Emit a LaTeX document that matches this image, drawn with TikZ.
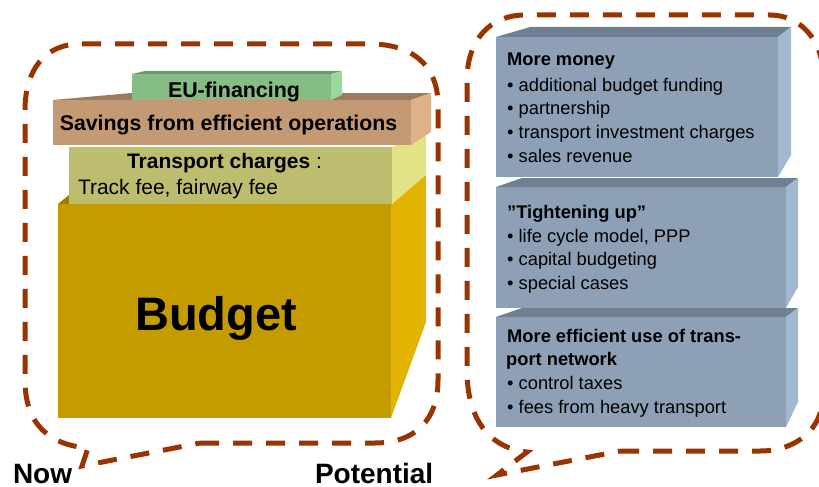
\documentclass[tikz,border=0pt]{standalone}
\usepackage{fontspec}
\setmainfont{Liberation Sans}
\definecolor{dashred}{HTML}{993300}
\definecolor{budfront}{HTML}{C49C00}
\definecolor{budside}{HTML}{E0B400}
\definecolor{budtop}{HTML}{9E7E00}
\definecolor{tcfront}{HTML}{BDBD70}
\definecolor{tcside}{HTML}{E3E385}
\definecolor{savfront}{HTML}{C49A74}
\definecolor{savside}{HTML}{DFB187}
\definecolor{savtop}{HTML}{9C7B5D}
\definecolor{eufront}{HTML}{85BD85}
\definecolor{euside}{HTML}{9BD99B}
\definecolor{eutop}{HTML}{6B9B6B}
\definecolor{bxfront}{HTML}{8DA0B5}
\definecolor{bxside}{HTML}{A2B8CF}
\definecolor{bxtop}{HTML}{6F8093}
\begin{document}
\begin{tikzpicture}[x=1pt, y=-1pt]
	\tikzset{fc/.style={inner sep=0pt, outer sep=0pt, draw=none}};
	\tikzset{txt/.style={inner sep=0pt, anchor=base west, font=\fontsize{18.3}{22}\selectfont}};
	\tikzset{hd/.style={txt, font=\fontsize{18.3}{22}\selectfont\bfseries}};
	\tikzset{callout/.style={draw=dashred, line width=5pt, dash pattern=on 19pt off 14pt}};
	\useasboundingbox (0,0) rectangle (819,487);

	\node[fc, fill=budfront, minimum width=333pt, minimum height=214pt] (budget) at (224.5,311) {};
	\fill[budtop] (budget.north west) -- (budget.north east) -- ++(35,-29) -- ++(-333,0) -- cycle;
	\fill[budside] (budget.north east) -- ++(35,-29) -- ++(0,147) -- (budget.south east) -- cycle;
	\node[fc, fill=tcfront, minimum width=323pt, minimum height=57pt] (tc) at (230.5,175.5) {};
	\fill[tcside] (tc.north east) -- ++(34,-14) -- ++(0,42) -- (tc.south east) -- cycle;
	\node[fc, fill=savfront, minimum width=358pt, minimum height=45pt] (sav) at (232,122.5) {};
	\fill[savtop] (sav.north west) -- (sav.north east) -- ++(20,-7) -- (131,93) -- cycle;
	\fill[savside] (sav.north east) -- ++(20,-7) -- ++(0,39) -- (sav.south east) -- cycle;
	\node[fc, fill=eufront, minimum width=199pt, minimum height=26pt] (eu) at (231.5,87) {};
	\fill[eutop] (eu.north west) -- (eu.north east) -- ++(11,-3) -- (145,71) -- cycle;
	\fill[euside] (eu.north east) -- ++(11,-3) -- ++(0,24) -- (eu.south east) -- cycle;

	\node[fc, anchor=base, font=\fontsize{21.4}{24}\selectfont\bfseries] (eutxt) at (234,97) {EU-financing};
	\node[fc, anchor=base, font=\fontsize{21.3}{24}\selectfont\bfseries] (savtxt) at (228.5,130) {Savings from efficient operations};
	\node[fc, anchor=base west, font=\fontsize{21}{24}\selectfont] (tctxt) at (127,168) {\textbf{Transport charges} :};
	\node[fc, anchor=base west, font=\fontsize{21}{24}\selectfont] (feetxt) at (78,194) {Track fee, fairway fee};
	\node[fc, anchor=base, font=\fontsize{47}{50}\selectfont\bfseries] (budtxt) at (216,330) {Budget};

	\node[fc, fill=bxfront, minimum width=282pt, minimum height=140pt] (money) at (637,107) {};
	\fill[bxtop] (money.north west) -- ++(34,-10) -- ++(261,0) -- (money.north east) -- cycle;
	\fill[bxside] (money.north east) -- ++(13,-10) -- ++(0,128) -- (money.south east) -- cycle;
	\node[fc, fill=bxfront, minimum width=290pt, minimum height=121pt] (tight) at (641,247.5) {};
	\fill[bxtop] (tight.north west) -- ++(26,-9) -- ++(276,0) -- (tight.north east) -- cycle;
	\fill[bxside] (tight.north east) -- ++(12,-9) -- ++(0,109) -- (tight.south east) -- cycle;
	\node[fc, fill=bxfront, minimum width=290pt, minimum height=110pt] (net) at (641,372) {};
	\fill[bxtop] (net.north west) -- ++(26,-9) -- ++(276,0) -- (net.north east) -- cycle;
	\fill[bxside] (net.north east) -- ++(12,-9) -- ++(0,94) -- (net.south east) -- cycle;

	\node[hd] (mh) at (507,66) {More money};
	\foreach \t [count=\i] in {additional budget funding, partnership, transport investment charges, sales revenue}
		\node[txt] (m\i) at (507, 67.3+23.7*\i) {\textbullet\ \t};
	\node[hd] (th) at (507,218) {”Tightening up”};
	\foreach \t [count=\i] in {{life cycle model, PPP}, capital budgeting, special cases}
		\node[txt] (t\i) at (507, 218.5+23.5*\i) {\textbullet\ \t};
	\node[hd] (nh1) at (507,342) {More efficient use of trans-};
	\node[hd] (nh2) at (506,365) {port network};
	\foreach \t [count=\i] in {control taxes, fees from heavy transport}
		\node[txt] (n\i) at (507, 365+24*\i) {\textbullet\ \t};

	\node[fc, anchor=base west, font=\fontsize{28}{30}\selectfont\bfseries] (now) at (13,483) {Now};
	\node[fc, anchor=base west, font=\fontsize{28}{30}\selectfont\bfseries] (pot) at (315,483) {Potential};

	\draw[callout] (200,443) -- (375,443) .. controls (415,443) and (438,420) .. (438,380) -- (438,105) .. controls (438,65) and (412,44) .. (370,44) -- (80,44) .. controls (45,44) and (25,70) .. (25,110) -- (25,380) .. controls (25,425) and (50,445) .. (88,448) -- (82,466) -- cycle;
	\draw[callout] (620,451) -- (760,451) .. controls (795,451) and (823,430) .. (823,395) -- (823,75) .. controls (823,40) and (800,15) .. (770,15) -- (525,15) .. controls (490,15) and (467,40) .. (467,80) -- (467,370) .. controls (467,420) and (490,448) .. (527,452) -- (497,475) -- cycle;
\end{tikzpicture}
\end{document}
